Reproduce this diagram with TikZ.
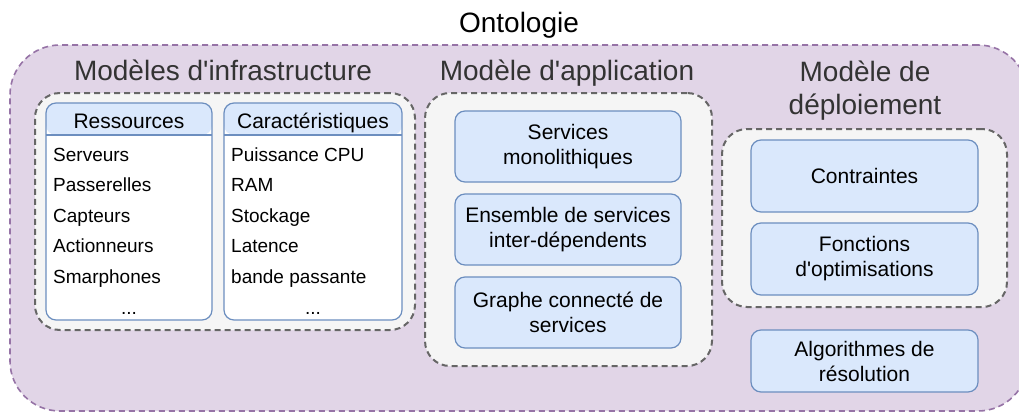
\documentclass[tikz,border=0pt]{standalone}
\usepackage{fontspec}
\setmainfont{Liberation Sans}[Ligatures=TeXOff]
\usetikzlibrary{calc}
\definecolor{ontoFill}{HTML}{E1D5E7}
\definecolor{ontoLine}{HTML}{9673A6}
\definecolor{grpFill}{HTML}{F5F5F5}
\definecolor{grpLine}{HTML}{666666}
\definecolor{blueFill}{HTML}{DAE8FC}
\definecolor{blueLine}{HTML}{6C8EBF}
\definecolor{titleText}{HTML}{333333}
\tikzset{
  outerbox/.style={draw=ontoLine, fill=ontoFill, line width=1.6pt, dash pattern=on 6pt off 4pt, rounded corners=50pt, inner sep=0pt},
  groupbox/.style={draw=grpLine, fill=grpFill, line width=2pt, dash pattern=on 6pt off 4pt, rounded corners=25pt, inner sep=0pt},
  bluebox/.style={draw=blueLine, fill=blueFill, line width=1.2pt, rounded corners=10pt, inner sep=0pt, align=center, font=\fontsize{21}{25}\selectfont},
  lanebox/.style={draw=blueLine, fill=white, line width=1.2pt, rounded corners=10pt, inner sep=0pt,
    path picture={
      \fill[blueFill] (path picture bounding box.north west) rectangle ([yshift=-32pt]path picture bounding box.north east);
      \draw[blueLine, line width=1.2pt] ([yshift=-32pt]path picture bounding box.north west) -- ([yshift=-32pt]path picture bounding box.north east);
    }},
  bigtitle/.style={font=\fontsize{28}{33}\selectfont, text=titleText, inner sep=0pt, align=center},
  ontotitle/.style={font=\fontsize{28}{33}\selectfont, text=black, inner sep=0pt},
  lanehead/.style={font=\fontsize{21}{25}\selectfont, inner sep=0pt, anchor=base},
  item/.style={font=\fontsize{19}{23}\selectfont, inner sep=0pt, anchor=base west},
  dots/.style={font=\fontsize{19}{23}\selectfont, inner sep=0pt, anchor=base},
}
\begin{document}
\begin{tikzpicture}[x=1pt, y=-1pt]
\useasboundingbox (0,0) rectangle (1019,412);
\clip (0,0) rectangle (1019,412);

% outer ontology container
\node[outerbox, minimum width=1018pt, minimum height=366pt] (onto) at (519,228) {};
\node[ontotitle, anchor=base] (ontoT) at (519,33) {Ontologie};

% group containers
\node[groupbox, minimum width=380pt, minimum height=237pt] (infra) at (225,211.5) {};
\node[groupbox, minimum width=287pt, minimum height=273pt] (app) at (568.5,229.5) {};
\node[groupbox, minimum width=285pt, minimum height=178pt] (dep) at (864.5,218) {};

% group titles
\node[bigtitle, anchor=base] (infraT) at (223,81) {Modèles d'infrastructure};
\node[bigtitle, anchor=base] (appT) at (567,81) {Modèle d'application};
\node[bigtitle] (depT) at (865,91) {Modèle de\\déploiement};

% swimlanes
\node[lanebox, minimum width=166pt, minimum height=217pt] (res) at (129,211.5) {};
\node[lanebox, minimum width=178pt, minimum height=217pt] (car) at (313,211.5) {};
\node[lanehead] (resH) at (129,128) {Ressources};
\node[lanehead] (carH) at (313,128) {Caractéristiques};

\node[item] (r1) at (53,161) {Serveurs};
\node[item] (r2) at (53,191.5) {Passerelles};
\node[item] (r3) at (53,222) {Capteurs};
\node[item] (r4) at (53,252.5) {Actionneurs};
\node[item] (r5) at (53,283) {Smarphones};
\node[dots] (r6) at (129,314) {...};

\node[item] (c1) at (231,161) {Puissance CPU};
\node[item] (c2) at (231,191.5) {RAM};
\node[item] (c3) at (231,222) {Stockage};
\node[item] (c4) at (231,252.5) {Latence};
\node[item] (c5) at (231,283) {bande passante};
\node[dots] (c6) at (313,314) {...};

% application model boxes
\node[bluebox, minimum width=226pt, minimum height=71pt] (a1) at (568,146.5) {Services\\monolithiques};
\node[bluebox, minimum width=226pt, minimum height=71pt] (a2) at (568,229.5) {Ensemble de services\\inter-dépendents};
\node[bluebox, minimum width=226pt, minimum height=71pt] (a3) at (568,312.5) {Graphe connecté de\\services};

% deployment model boxes
\node[bluebox, minimum width=227pt, minimum height=72pt] (d1) at (864.5,176) {Contraintes};
\node[bluebox, minimum width=227pt, minimum height=72pt] (d2) at (864.5,259) {Fonctions\\d'optimisations};
\node[bluebox, minimum width=227pt, minimum height=62pt] (d3) at (864.5,361) {Algorithmes de\\résolution};
\end{tikzpicture}
\end{document}
